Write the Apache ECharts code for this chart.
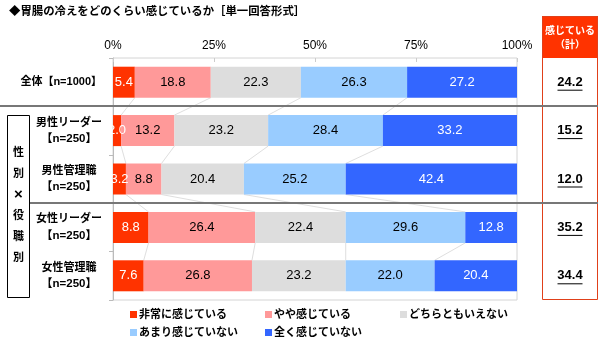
<!DOCTYPE html>
<html><head><meta charset="utf-8">
<script src="https://cdn.jsdelivr.net/npm/echarts@6/dist/echarts.min.js"></script>
<style>html,body{margin:0;padding:0;background:#fff}#c{width:600px;height:345px}</style>
</head><body><div id="c"></div>
<script>
const categories = ['全体【n=1000】', '男性リーダー【n=250】', '男性管理職【n=250】', '女性リーダー【n=250】', '女性管理職【n=250】'];
const seriesNames = ['非常に感じている', 'やや感じている', 'どちらともいえない', 'あまり感じていない', '全く感じていない'];
const veryMuch = [5.4, 2.0, 3.2, 8.8, 7.6];
const somewhat = [18.8, 13.2, 8.8, 26.4, 26.8];
const neither = [22.3, 23.2, 20.4, 22.4, 23.2];
const notMuch = [26.3, 28.4, 25.2, 29.6, 22.0];
const notAtAll = [27.2, 33.2, 42.4, 12.8, 20.4];
const feelTotal = [24.2, 15.2, 12.0, 35.2, 34.4];
const xTicks = [0, 25, 50, 75, 100];

const colors = ['#FF3300', '#FF9999', '#DDDDDD', '#99CCFF', '#3366FF'];
const labelColors = ['#fff', '#000', '#000', '#000', '#fff'];
const values = [veryMuch, somewhat, neither, notMuch, notAtAll];
const FONT = "'Liberation Sans', 'Noto Sans CJK JP', sans-serif";
const BAR_W = 31;

// connector lines between segment boundaries
const connData = [];
for (let i = 0; i < categories.length - 1; i++) {
  let a = 0, b = 0;
  for (let k = 0; k < values.length - 1; k++) {
    a += values[k][i]; b += values[k][i + 1];
    connData.push([a, b, i]);
  }
}

function catLabel(v) {
  if (v.indexOf('全体') === 0) return '{w|' + v + '}';
  const idx = v.indexOf('【');
  return '{c|' + v.slice(0, idx) + '}\n{n|' + v.slice(idx) + '}';
}

const chart = echarts.init(document.getElementById('c'), null, {renderer: 'canvas'});
const barSeries = seriesNames.map((name, k) => ({
  name, type: 'bar', stack: 'all', barWidth: BAR_W, xAxisIndex: 0, yAxisIndex: 0,
  data: values[k], itemStyle: {color: colors[k]}, z: 3,
  label: {show: true, position: 'inside', color: labelColors[k], fontSize: 13, fontFamily: FONT,
    formatter: p => p.value.toFixed(1)}
}));

const legendPos = [[130, 309], [265, 309], [400, 309], [130, 327], [265, 327]];
const legends = seriesNames.map((n, k) => ({
  data: [n], left: legendPos[k][0], top: legendPos[k][1], icon: 'rect', itemWidth: 7, itemHeight: 7,
  itemGap: 0, padding: 0, textStyle: {fontSize: 11, fontWeight: 'bold', color: '#000', fontFamily: FONT, padding: [0, 0, 0, -3]},
  selectedMode: false
}));

chart.setOption({
  animation: false,
  textStyle: {fontFamily: FONT},
  title: {text: '◆胃腸の冷えをどのくらい感じているか［単一回答形式］', left: 9, top: 6, padding: 0,
    textStyle: {fontSize: 11.4, fontWeight: 'bold', color: '#000', fontFamily: FONT}},
  legend: legends,
  grid: [
    {left: 113, right: 83, top: 58, bottom: 45, show: true, borderColor: '#d4d4d4', borderWidth: 1},
    {left: 542, right: 2, top: 58, bottom: 45, show: false}
  ],
  xAxis: [
    {type: 'value', gridIndex: 0, position: 'top', min: 0, max: 100, interval: 25,
      axisLine: {show: false}, splitLine: {show: false},
      axisTick: {show: true, inside: true, length: 4, lineStyle: {color: '#cccccc'}},
      axisLabel: {formatter: '{value}%', fontSize: 12, color: '#000', margin: 6, fontFamily: FONT}},
    {type: 'value', gridIndex: 1, min: 0, max: 1, show: false}
  ],
  yAxis: [
    {type: 'category', gridIndex: 0, data: categories, inverse: true,
      axisLine: {show: true, lineStyle: {color: '#bbbbbb'}},
      axisTick: {show: true, length: 4, lineStyle: {color: '#bbbbbb'}},
      axisLabel: {margin: 11, formatter: catLabel, align: 'right',
        rich: {
          w: {fontSize: 11, fontWeight: 'bold', color: '#000', fontFamily: FONT},
          c: {fontSize: 11, fontWeight: 'bold', color: '#000', fontFamily: FONT, width: 66, align: 'center', lineHeight: 16},
          n: {fontSize: 11.5, fontWeight: 'bold', color: '#000', fontFamily: FONT, width: 66, align: 'center', lineHeight: 16}
        }}},
    {type: 'category', gridIndex: 1, data: categories, inverse: true, show: false}
  ],
  series: barSeries.concat([
    {type: 'custom', xAxisIndex: 0, yAxisIndex: 0, z: 1, silent: true, data: connData,
      renderItem: (params, api) => {
        const i = api.value(2);
        const p1 = api.coord([api.value(0), i]);
        const p2 = api.coord([api.value(1), i + 1]);
        return {type: 'line', shape: {x1: p1[0], y1: p1[1] + BAR_W / 2, x2: p2[0], y2: p2[1] - BAR_W / 2},
          style: {stroke: '#d6d6d6', lineWidth: 0.8}};
      }},
    {type: 'custom', xAxisIndex: 1, yAxisIndex: 1, z: 5, silent: true,
      data: feelTotal.map((v, i) => [0.5, i, v]),
      renderItem: (params, api) => {
        const p = api.coord([api.value(0), api.value(1)]);
        const txt = api.value(2).toFixed(1);
        return {type: 'group', children: [
          {type: 'text', style: {text: txt, x: p[0], y: p[1], align: 'center', verticalAlign: 'middle',
            font: 'bold 13px ' + FONT, fill: '#000'}},
          {type: 'line', shape: {x1: p[0] - 12.5, y1: p[1] + 8, x2: p[0] + 12.5, y2: p[1] + 8},
            style: {stroke: '#000', lineWidth: 1}}
        ]};
      }}
  ])
});

const b1 = (chart.convertToPixel({yAxisIndex: 0}, 0) + chart.convertToPixel({yAxisIndex: 0}, 1)) / 2;
const b3 = (chart.convertToPixel({yAxisIndex: 0}, 2) + chart.convertToPixel({yAxisIndex: 0}, 3)) / 2;

chart.setOption({
  graphic: [
    {type: 'rect', shape: {x: 542, y: 16, width: 56, height: 42}, style: {fill: '#FF3300'}, z: 10},
    {type: 'rect', shape: {x: 542.5, y: 16.5, width: 55, height: 283}, style: {fill: 'none', stroke: '#E0401A', lineWidth: 1}, z: 10},
    {type: 'text', style: {text: '感じている\n（計）', x: 570, y: 38, align: 'center', verticalAlign: 'middle',
      font: 'bold 10px ' + FONT, fill: '#fff', lineHeight: 14}, z: 11},
    {type: 'line', shape: {x1: 0, y1: Math.round(b1), x2: 598, y2: Math.round(b1)}, style: {stroke: '#777', lineWidth: 2}, z: 12},
    {type: 'line', shape: {x1: 30, y1: Math.round(b3), x2: 598, y2: Math.round(b3)}, style: {stroke: '#777', lineWidth: 2}, z: 12},
    {type: 'rect', shape: {x: 7.5, y: 115.5, width: 22, height: 182}, style: {fill: '#fff', stroke: '#000', lineWidth: 1}, z: 10},
    {type: 'text', style: {text: '{k|性}\n{k|別}\n{x|×}\n{k|役}\n{k|職}\n{k|別}', x: 18.5, y: 205, align: 'center', verticalAlign: 'middle',
      rich: {
        k: {fontSize: 11, fontWeight: 'bold', fontFamily: FONT, fill: '#000', lineHeight: 21, align: 'center'},
        x: {fontSize: 15, fontWeight: 'bold', fontFamily: FONT, fill: '#000', lineHeight: 21, align: 'center'}
      }}, z: 11}
  ]
});
</script></body></html>
